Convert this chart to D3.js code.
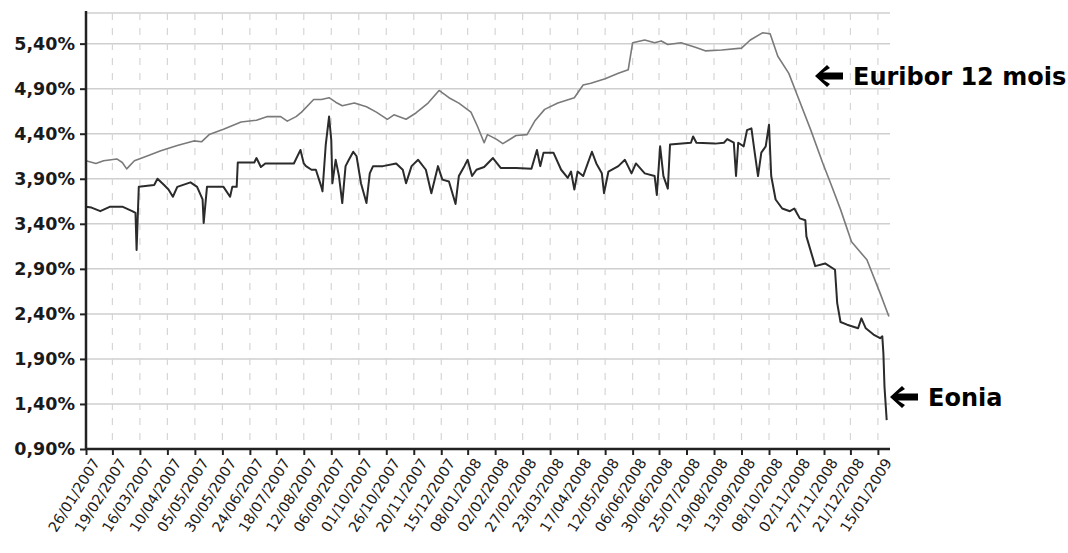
<!DOCTYPE html>
<html>
<head>
<meta charset="utf-8">
<script src="https://cdn.jsdelivr.net/npm/d3@7"></script>
<style>
  body { margin: 0; background: #fff; }
  svg { display: block; }
  .axis-label { font-family: "DejaVu Sans", sans-serif; }
</style>
</head>
<body>
<svg id="chart"></svg>
<script>
// Euribor 12 mois (gray line)
const euribor = [
  ["2007-01-26", 4.10], ["2007-02-04", 4.07], ["2007-02-11", 4.10], ["2007-02-23", 4.12],
  ["2007-02-28", 4.08], ["2007-03-04", 4.01], ["2007-03-11", 4.10], ["2007-03-22", 4.15],
  ["2007-04-04", 4.21], ["2007-04-19", 4.27], ["2007-05-04", 4.32], ["2007-05-11", 4.31],
  ["2007-05-18", 4.39], ["2007-05-31", 4.45], ["2007-06-16", 4.53], ["2007-06-30", 4.55],
  ["2007-07-10", 4.59], ["2007-07-22", 4.59], ["2007-07-28", 4.54], ["2007-08-05", 4.59],
  ["2007-08-10", 4.64], ["2007-08-21", 4.78], ["2007-08-28", 4.78], ["2007-09-04", 4.80],
  ["2007-09-10", 4.75], ["2007-09-16", 4.71], ["2007-09-27", 4.74], ["2007-10-08", 4.70],
  ["2007-10-17", 4.64], ["2007-10-27", 4.56], ["2007-11-02", 4.61], ["2007-11-13", 4.56],
  ["2007-11-22", 4.63], ["2007-12-03", 4.74], ["2007-12-13", 4.88], ["2007-12-22", 4.80],
  ["2007-12-31", 4.74], ["2008-01-11", 4.64], ["2008-01-17", 4.48], ["2008-01-23", 4.30],
  ["2008-01-26", 4.39], ["2008-02-03", 4.34], ["2008-02-09", 4.29], ["2008-02-21", 4.38],
  ["2008-03-02", 4.39], ["2008-03-09", 4.54], ["2008-03-18", 4.67], ["2008-03-30", 4.74],
  ["2008-04-14", 4.80], ["2008-04-22", 4.94], ["2008-04-29", 4.96], ["2008-05-12", 5.01],
  ["2008-05-24", 5.07], ["2008-06-02", 5.11], ["2008-06-06", 5.41], ["2008-06-17", 5.44],
  ["2008-06-26", 5.41], ["2008-07-02", 5.43], ["2008-07-08", 5.39], ["2008-07-20", 5.41],
  ["2008-08-02", 5.36], ["2008-08-11", 5.32], ["2008-08-26", 5.33], ["2008-09-13", 5.35],
  ["2008-09-21", 5.44], ["2008-10-02", 5.52], ["2008-10-09", 5.51], ["2008-10-16", 5.26],
  ["2008-10-26", 5.07], ["2008-11-02", 4.85], ["2008-11-15", 4.44], ["2008-11-26", 4.07],
  ["2008-12-03", 3.85], ["2008-12-12", 3.56], ["2008-12-22", 3.20], ["2009-01-05", 3.00],
  ["2009-01-17", 2.63], ["2009-01-25", 2.37],
];

// Eonia (dark line)
const eonia = [
  ["2007-01-26", 3.59], ["2007-01-31", 3.58], ["2007-02-08", 3.54], ["2007-02-17", 3.59],
  ["2007-02-28", 3.59], ["2007-03-09", 3.54], ["2007-03-12", 3.52], ["2007-03-13", 3.11],
  ["2007-03-15", 3.81], ["2007-03-29", 3.83], ["2007-04-01", 3.90], ["2007-04-07", 3.83],
  ["2007-04-11", 3.78], ["2007-04-15", 3.70], ["2007-04-19", 3.81], ["2007-05-01", 3.86],
  ["2007-05-07", 3.81], ["2007-05-12", 3.67], ["2007-05-13", 3.41], ["2007-05-16", 3.81],
  ["2007-05-31", 3.81], ["2007-06-06", 3.70], ["2007-06-08", 3.81], ["2007-06-12", 3.81],
  ["2007-06-13", 4.08], ["2007-06-28", 4.08], ["2007-06-30", 4.13], ["2007-07-04", 4.03],
  ["2007-07-08", 4.07], ["2007-08-03", 4.07], ["2007-08-09", 4.22], ["2007-08-12", 4.07],
  ["2007-08-14", 4.04], ["2007-08-19", 4.00], ["2007-08-23", 4.00], ["2007-08-28", 3.81],
  ["2007-08-29", 3.76], ["2007-09-01", 4.28], ["2007-09-04", 4.59], ["2007-09-06", 4.33],
  ["2007-09-07", 3.85], ["2007-09-10", 4.11], ["2007-09-13", 3.93], ["2007-09-16", 3.63],
  ["2007-09-19", 4.04], ["2007-09-22", 4.11], ["2007-09-26", 4.20], ["2007-09-29", 4.15],
  ["2007-10-03", 3.85], ["2007-10-08", 3.63], ["2007-10-11", 3.96], ["2007-10-14", 4.04],
  ["2007-10-23", 4.04], ["2007-11-04", 4.07], ["2007-11-10", 4.00], ["2007-11-13", 3.85],
  ["2007-11-18", 4.04], ["2007-11-24", 4.11], ["2007-12-01", 4.00], ["2007-12-06", 3.74],
  ["2007-12-12", 4.04], ["2007-12-16", 3.89], ["2007-12-22", 3.87], ["2007-12-28", 3.62],
  ["2007-12-31", 3.93], ["2008-01-05", 4.04], ["2008-01-08", 4.11], ["2008-01-12", 3.93],
  ["2008-01-16", 4.00], ["2008-01-23", 4.03], ["2008-01-31", 4.13], ["2008-02-07", 4.02],
  ["2008-02-21", 4.02], ["2008-03-06", 4.01], ["2008-03-11", 4.22], ["2008-03-14", 4.04],
  ["2008-03-17", 4.19], ["2008-03-26", 4.19], ["2008-04-02", 4.00], ["2008-04-08", 3.91],
  ["2008-04-11", 3.98], ["2008-04-14", 3.78], ["2008-04-17", 3.98], ["2008-04-22", 3.93],
  ["2008-04-30", 4.20], ["2008-05-04", 4.07], ["2008-05-09", 3.96], ["2008-05-11", 3.74],
  ["2008-05-15", 3.98], ["2008-05-24", 4.04], ["2008-05-30", 4.11], ["2008-06-05", 3.96],
  ["2008-06-09", 4.07], ["2008-06-17", 3.96], ["2008-06-26", 3.93], ["2008-06-28", 3.72],
  ["2008-07-01", 4.26], ["2008-07-04", 3.93], ["2008-07-08", 3.79], ["2008-07-10", 4.28],
  ["2008-07-29", 4.30], ["2008-07-31", 4.37], ["2008-08-03", 4.30], ["2008-08-20", 4.29],
  ["2008-08-28", 4.30], ["2008-08-31", 4.34], ["2008-09-06", 4.30], ["2008-09-08", 3.93],
  ["2008-09-10", 4.30], ["2008-09-15", 4.26], ["2008-09-18", 4.44], ["2008-09-22", 4.46],
  ["2008-09-25", 4.19], ["2008-09-28", 3.93], ["2008-10-01", 4.19], ["2008-10-05", 4.26],
  ["2008-10-08", 4.50], ["2008-10-10", 3.93], ["2008-10-14", 3.67], ["2008-10-20", 3.57],
  ["2008-10-27", 3.54], ["2008-10-31", 3.57], ["2008-11-05", 3.46], ["2008-11-10", 3.44],
  ["2008-11-11", 3.26], ["2008-11-19", 2.93], ["2008-11-28", 2.96], ["2008-12-07", 2.89],
  ["2008-12-09", 2.52], ["2008-12-12", 2.31], ["2008-12-18", 2.28], ["2008-12-28", 2.24],
  ["2008-12-31", 2.35], ["2009-01-04", 2.24], ["2009-01-11", 2.17], ["2009-01-17", 2.13],
  ["2009-01-19", 2.15], ["2009-01-20", 1.96], ["2009-01-21", 1.59], ["2009-01-23", 1.22],
];

const xTickLabels = [
  "26/01/2007", "19/02/2007", "16/03/2007", "10/04/2007", "05/05/2007", "30/05/2007",
  "24/06/2007", "18/07/2007", "12/08/2007", "06/09/2007", "01/10/2007", "26/10/2007",
  "20/11/2007", "15/12/2007", "08/01/2008", "02/02/2008", "27/02/2008", "23/03/2008",
  "17/04/2008", "12/05/2008", "06/06/2008", "30/06/2008", "25/07/2008", "19/08/2008",
  "13/09/2008", "08/10/2008", "02/11/2008", "27/11/2008", "21/12/2008", "15/01/2009",
];

const yTicks = [0.9, 1.4, 1.9, 2.4, 2.9, 3.4, 3.9, 4.4, 4.9, 5.4];

const width = 1068;
const height = 553;
const plotLeft = 86;
const plotRight = 890;
const plotTop = 13;
const plotBottom = 449;

const parseDate = d3.timeParse("%Y-%m-%d");
const parseLabel = d3.timeParse("%d/%m/%Y");

const chart = d3
  .select("#chart")
  .attr("width", width)
  .attr("height", height)
  .attr("viewBox", `0 0 ${width} ${height}`);

const xScale = d3
  .scaleTime()
  .domain([parseDate("2007-01-26"), parseDate("2009-01-26")])
  .range([plotLeft, plotRight]);

const yScale = d3.scaleLinear().domain([0.9, 5.74]).range([plotBottom, plotTop]);

const pctFormat = (v) => v.toFixed(2).replace(".", ",") + "%";

// Grid
chart
  .append("g")
  .selectAll("line")
  .data(yTicks.slice(1).concat([5.74]))
  .join("line")
  .attr("x1", plotLeft)
  .attr("x2", plotRight)
  .attr("y1", (d) => yScale(d))
  .attr("y2", (d) => yScale(d))
  .attr("stroke", "#cfcfcf")
  .attr("stroke-width", 1.5);

chart
  .append("g")
  .selectAll("line")
  .data(xTickLabels.slice(1))
  .join("line")
  .attr("x1", (d) => xScale(parseLabel(d)))
  .attr("x2", (d) => xScale(parseLabel(d)))
  .attr("y1", plotTop)
  .attr("y2", plotBottom)
  .attr("stroke", "#d6d6d6")
  .attr("stroke-width", 1.2)
  .attr("stroke-dasharray", "7,8");

// Lines
const line = d3
  .line()
  .x((d) => xScale(parseDate(d[0])))
  .y((d) => yScale(d[1]));

chart
  .append("path")
  .datum(euribor)
  .attr("d", line)
  .attr("fill", "none")
  .attr("stroke", "#7a7a7a")
  .attr("stroke-width", 1.6)
  .attr("stroke-linejoin", "round");

chart
  .append("path")
  .datum(eonia)
  .attr("d", line)
  .attr("fill", "none")
  .attr("stroke", "#2b2b2b")
  .attr("stroke-width", 2)
  .attr("stroke-linejoin", "round");

// Axes
const yAxis = chart
  .append("g")
  .attr("transform", `translate(${plotLeft},0)`)
  .call(d3.axisLeft(yScale).tickValues(yTicks).tickFormat(pctFormat).tickSize(6).tickPadding(5));

yAxis.select(".domain").attr("stroke", "#222").attr("stroke-width", 2.5).attr("d", `M0,${plotTop - 2}V${plotBottom}`);
yAxis.selectAll(".tick line").attr("stroke", "#222").attr("stroke-width", 2);
yAxis
  .selectAll(".tick text")
  .attr("class", "axis-label")
  .attr("font-size", 17.5)
  .attr("font-weight", "bold")
  .attr("fill", "#1a1a1a");

const xAxis = chart
  .append("g")
  .attr("transform", `translate(0,${plotBottom})`)
  .call(
    d3
      .axisBottom(xScale)
      .tickValues(xTickLabels.map(parseLabel))
      .tickFormat(d3.timeFormat("%d/%m/%Y"))
      .tickSize(6)
  );

xAxis.select(".domain").attr("stroke", "#222").attr("stroke-width", 2.5).attr("d", `M${plotLeft},0H${plotRight}`);
xAxis.selectAll(".tick line").attr("stroke", "#222").attr("stroke-width", 2);
xAxis
  .selectAll(".tick text")
  .attr("class", "axis-label")
  .attr("font-size", 14.5)
  .attr("fill", "#1a1a1a")
  .attr("text-anchor", "end")
  .attr("dy", "0.35em")
  .attr("transform", "translate(2,6) rotate(-58)");

// Annotations
const annotations = [
  { label: "Euribor 12 mois", x: 815, y: 76 },
  { label: "Eonia", x: 890, y: 397 },
];

const arrowPath = "M0,0 L12,-11 L15,-8 L8,-3.5 L28,-3.5 L28,3.5 L8,3.5 L15,8 L12,11 Z";

const notes = chart
  .append("g")
  .selectAll("g")
  .data(annotations)
  .join("g")
  .attr("transform", (d) => `translate(${d.x},${d.y})`);

notes.append("path").attr("d", arrowPath).attr("fill", "#000");

notes
  .append("text")
  .attr("x", 38)
  .attr("dy", "0.36em")
  .attr("font-family", "DejaVu Sans, sans-serif")
  .attr("font-weight", "bold")
  .attr("font-size", 24)
  .attr("fill", "#000")
  .text((d) => d.label);
</script>
</body>
</html>
